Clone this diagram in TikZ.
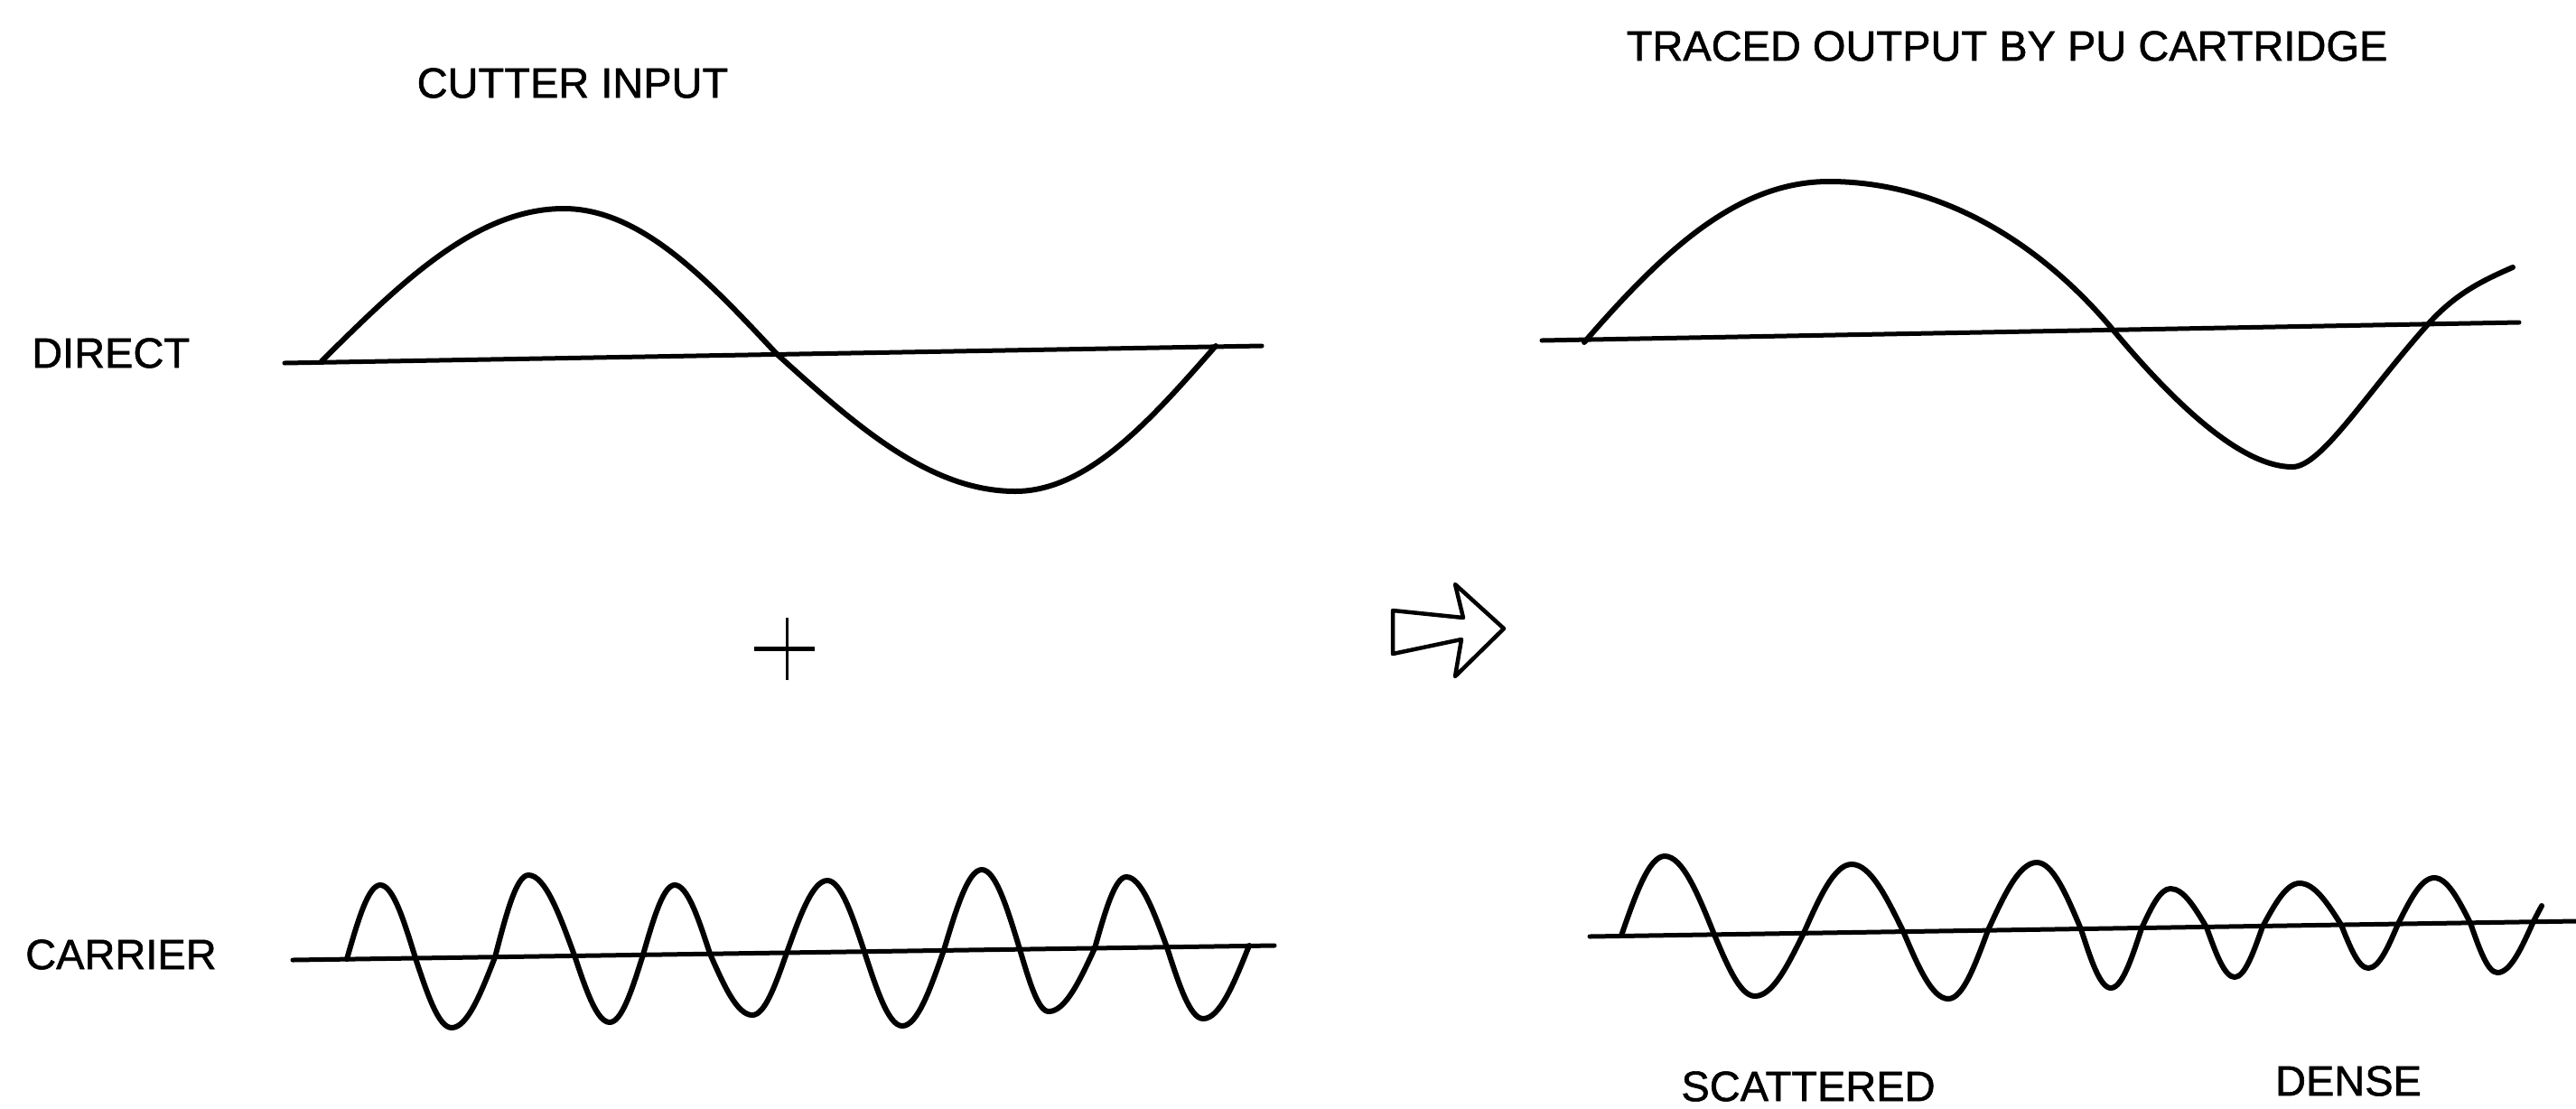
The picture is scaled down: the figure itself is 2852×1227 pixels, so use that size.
\documentclass[tikz,border=0pt]{standalone}
\usepackage{fontspec}
\setmainfont[FakeBold=1.2]{Liberation Sans}
\begin{document}
\begin{tikzpicture}[x=1pt,y=-1pt,
  lbl/.style={inner sep=0pt, font=\fontsize{47}{56}\selectfont},
  wave/.style={line width=6pt, line cap=round, line join=round},
  axisline/.style={line width=5pt, line cap=round},
  bigarrow/.style={line width=4.5pt, line join=round}]
\useasboundingbox[fill=white] (0,0) rectangle (2852,1227);

% titles and labels
\node[lbl] (cutter) at (634,92) {CUTTER INPUT};
\node[lbl] (traced) at (2222,51) {TRACED OUTPUT BY PU CARTRIDGE};
\node[lbl, anchor=west] (direct) at (35,391) {DIRECT};
\node[lbl, anchor=west] (carrier) at (28,1057) {CARRIER};
\node[lbl] (scattered) at (2002,1203) {SCATTERED};
\node[lbl] (dense) at (2600,1197) {DENSE};

% axes
\draw[axisline] (315,402) -- (1397,383);
\draw[axisline] (1707,377) -- (2789,357);
\draw[axisline] (324,1063) -- (1411,1047);
\draw[axisline] (1760,1037) -- (2852,1020);

% direct (cutter input)
\draw[wave] (356,400) sin (624,231) cos (860,392) sin (1124,544) cos (1346,383);

% traced direct
\draw[wave] (1754,379) .. controls (1844,275) and (1925,201) .. (2025,201)
  .. controls (2150,201) and (2260,270) .. (2340,366)
  .. controls (2420,462) and (2488,517) .. (2538,517)
  .. controls (2570,517) and (2620,435) .. (2689,358)
  .. controls (2720,324) and (2750,310) .. (2782,296);

% carrier (cutter input)
\draw[wave] (384,1062) sin (421,980) cos (460,1061) sin (500,1138) cos (548,1060)
  sin (585,969) cos (636,1058) sin (675,1132) cos (712,1057)
  sin (747,980) cos (786,1056) sin (833,1124) cos (871,1055)
  sin (916,975) cos (957,1054) sin (999,1136) cos (1045,1052)
  sin (1087,963) cos (1129,1051) sin (1161,1120) cos (1212,1050)
  sin (1247,971) cos (1292,1049) sin (1332,1128) cos (1383,1047);

% traced carrier
\draw[wave] (1795,1036) sin (1843,948) cos (1898,1035) sin (1943,1103) cos (1997,1033)
  sin (2050,957) cos (2107,1031) sin (2157,1106) cos (2201,1030)
  sin (2255,955) cos (2304,1029) sin (2337,1094) cos (2371,1028)
  sin (2403,984) cos (2443,1027) sin (2474,1082) cos (2505,1026)
  sin (2546,978) cos (2592,1024) sin (2622,1072) cos (2655,1023)
  sin (2695,972) cos (2735,1022) sin (2765,1077) cos (2805,1020) -- (2814,1003);

% plus sign
\draw[line width=3pt] (871,684) -- (871,753);
\draw[line width=5pt] (835,718) -- (902,718);

% hollow arrow
\draw[bigarrow] (1542,676) -- (1620,684) -- (1611,647) -- (1665,696)
  -- (1611,749) -- (1618,708) -- (1542,724) -- cycle;
\end{tikzpicture}
\end{document}
